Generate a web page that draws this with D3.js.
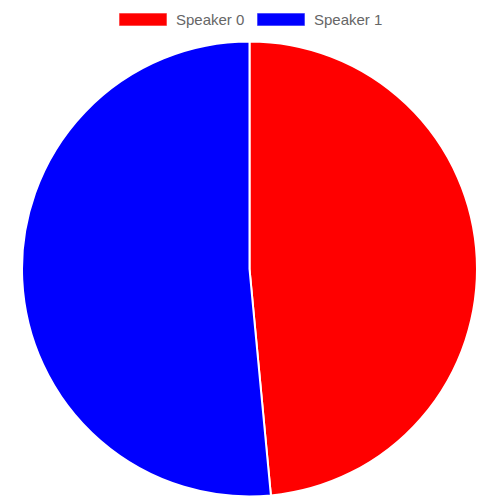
<!DOCTYPE html>
<html>
<head>
<meta charset="utf-8">
<script src="https://cdn.jsdelivr.net/npm/d3@7/dist/d3.min.js"></script>
<style>
  html, body { margin: 0; padding: 0; background: #fff; }
  svg { display: block; }
</style>
</head>
<body>
<svg id="chart" width="500" height="500"></svg>
<script>
var speakers = ['Speaker 0', 'Speaker 1'];
var shares = [48.5, 51.5];
var colors = ['#ff0000', '#0000ff'];

var svg = d3.select('#chart');
var cx = 249.5, cy = 269, R = 227.5;

var pie = d3.pie().sort(null).value(function (d) { return d; });
var arc = d3.arc().innerRadius(0).outerRadius(R);

var color = d3.scaleOrdinal().domain(speakers).range(colors);

svg.append('g')
  .attr('transform', 'translate(' + cx + ',' + cy + ')')
  .selectAll('path')
  .data(pie(shares))
  .enter()
  .append('path')
  .attr('d', arc)
  .attr('fill', function (d, i) { return color(speakers[i]); })
  .attr('stroke', '#fff')
  .attr('stroke-width', 2)
  .attr('stroke-linejoin', 'round');

// legend
var legend = svg.append('g')
  .attr('font-family', 'Arial, "Liberation Sans", sans-serif')
  .attr('font-size', 15);
var xs = [119, 257];
var items = legend.selectAll('g')
  .data(speakers)
  .enter()
  .append('g')
  .attr('transform', function (d, i) { return 'translate(' + xs[i] + ',13)'; });

items.append('rect')
  .attr('x', 0).attr('y', 0)
  .attr('width', 48).attr('height', 13)
  .attr('fill', function (d) { return color(d); })
  .attr('stroke', 'rgba(255,255,255,0.6)')
  .attr('stroke-width', 1);

items.append('text')
  .attr('x', 57).attr('y', 6.5)
  .attr('dy', '0.35em')
  .attr('fill', '#666')
  .text(function (d) { return d; });
</script>
</body>
</html>
